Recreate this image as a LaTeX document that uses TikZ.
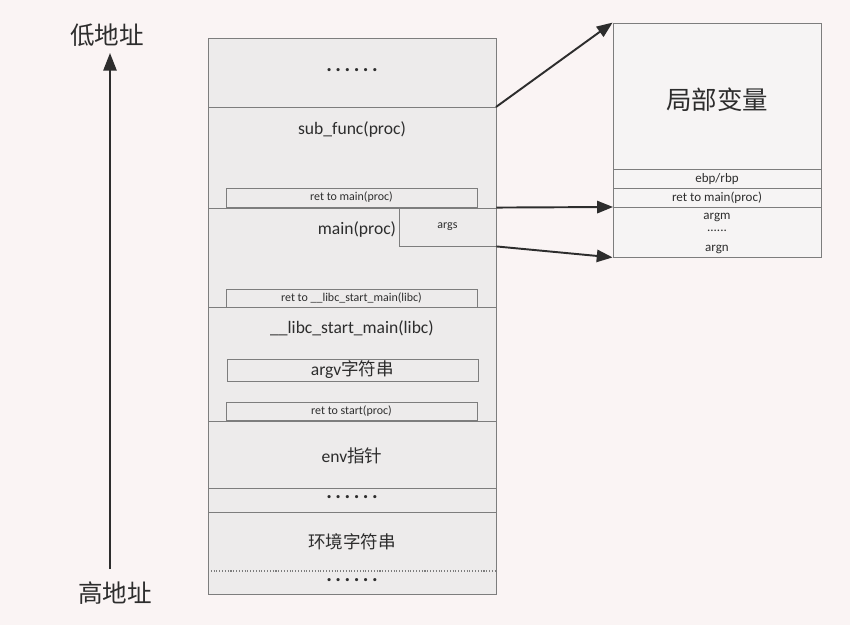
\documentclass[tikz,border=0pt]{standalone}
\usepackage{fontspec}
\setmainfont{Carlito}
\newfontfamily\cjk{Noto Sans CJK SC}
\usetikzlibrary{arrows.meta}
\definecolor{bgpink}{RGB}{250,244,244}
\definecolor{cellgray}{RGB}{237,235,235}
\definecolor{framefill}{RGB}{246,244,244}
\definecolor{linegray}{RGB}{125,125,125}
\definecolor{ink}{RGB}{45,45,45}
\newcommand{\sixdots}{.\,.\,.\,.\,.\,.}
\begin{document}
\begin{tikzpicture}[x=0.02cm,y=-0.02cm,text=ink,
	big/.style={font=\fontsize{10}{12}\selectfont},
	dotrow/.style={font=\fontsize{12}{14}\selectfont\bfseries},
	small/.style={font=\fontsize{6.8}{8}\selectfont},
	side/.style={font=\fontsize{7.4}{9}\selectfont},
	slot/.style={draw=linegray,fill=cellgray,line width=0.5pt,small,inner sep=0pt,
		minimum width=5.02cm},
	tip/.style={-{Triangle[length=9pt,width=7pt]},line width=1.1pt,draw=ink}]
	\useasboundingbox (0,0) rectangle (850,625);
	\fill[bgpink] (0,0) rectangle (850,625);
	% address axis
	\node[font=\cjk\fontsize{14}{16}\selectfont] (low) at (107,35) {低地址};
	\node[font=\cjk\fontsize{14}{16}\selectfont] (high) at (115,593) {高地址};
	\coordinate (axbot) at (110,569);
	\coordinate (axtop) at (110,53);
	\draw[tip,-{Triangle[length=10pt,width=7.5pt]}] (axbot) -- (axtop);
	% stack column
	\draw[draw=linegray,fill=cellgray,line width=0.5pt] (208,38) rectangle (496,594);
	\foreach \y in {107,208,307,421,488,512}
		\draw[linegray,line width=0.5pt] (208,\y) -- (496,\y);
	\draw[linegray,densely dotted,line width=0.6pt] (208,571) -- (496,571);
	\node[dotrow] (dotsa) at (352,70) {\sixdots};
	\node[big] (subfunc) at (352,129) {sub\_func(proc)};
	\node[slot,minimum height=0.38cm] (retmain) at (351.5,197.5) {ret to main(proc)};
	\node[big] (mainp) at (357,229) {main(proc)};
	\node[draw=linegray,fill=cellgray,line width=0.5pt,small,inner sep=0pt,
		minimum width=1.94cm,minimum height=0.76cm] (args) at (447.5,227) {args};
	\node[slot,minimum height=0.36cm] (retlibc) at (351.5,298) {ret to \_\_libc\_start\_main(libc)};
	\node[big] (libc) at (352,328) {\_\_libc\_start\_main(libc)};
	\node[slot,big,minimum height=0.44cm] (argv) at (352.5,370) {argv{\cjk 字符串}};
	\node[slot,minimum height=0.36cm] (retstart) at (351.5,411) {ret to start(proc)};
	\node[big] (envp) at (352,456) {env{\cjk 指针}};
	\node[dotrow] (dotsb) at (352,497) {\sixdots};
	\node[font=\cjk\fontsize{10}{12}\selectfont] (envstr) at (352,542) {环境字符串};
	\node[dotrow] (dotsc) at (352,580) {\sixdots};
	% frame of sub_func
	\node[draw=linegray,fill=framefill,line width=0.5pt,inner sep=0pt,
		minimum width=4.16cm,minimum height=4.68cm] (frame) at (717,140) {};
	\foreach \y in {169,188,207}
		\draw[linegray,line width=0.5pt] (613,\y) -- (821,\y);
	\node[font=\cjk\fontsize{14.5}{16}\selectfont] (locals) at (717,100) {局部变量};
	\node[side] (ebp) at (717,179) {ebp/rbp};
	\node[side] (fret) at (717,198) {ret to main(proc)};
	\node[side] (argm) at (717,217) {argm};
	\node[side] (fdots) at (717,231) {......};
	\node[side] (argn) at (717,249) {argn};
	% connectors
	\coordinate (subtop) at (496,107);
	\coordinate (retin) at (613,207);
	\draw[tip] (subtop) -- (frame.north west);
	\draw[tip] (args.north east) -- (retin);
	\draw[tip] (args.south east) -- (frame.south west);
\end{tikzpicture}
\end{document}
